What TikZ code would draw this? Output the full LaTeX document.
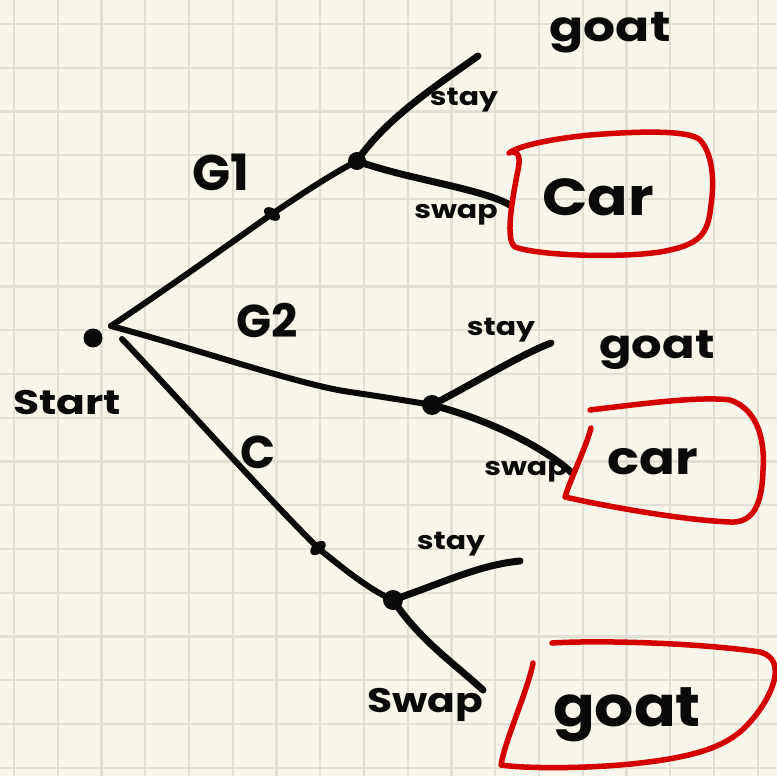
\documentclass[tikz,border=0pt]{standalone}
\usepackage{fontspec}
\setmainfont{Poppins}
\usepackage{graphicx}
\definecolor{paper}{HTML}{F8F6EB}
\definecolor{gridc}{HTML}{E2E0D4}
\definecolor{ink}{HTML}{0A0A0A}
\definecolor{pen}{HTML}{D40000}
\newcommand{\hw}[2][1.2]{\scalebox{#1}[1]{#2}}
\tikzset{
  branch/.style={draw=ink, line width=6pt, line cap=round, line join=round},
  leaf/.style={draw=ink, line width=7pt, line cap=round},
  dot/.style={circle, fill=ink, inner sep=0pt, minimum size=19pt},
  redbox/.style={draw=pen, line width=5.5pt, line cap=round, line join=round},
  lbl/.style={text=ink, inner sep=0pt, font=\bfseries},
}
\begin{document}
\begin{tikzpicture}[x=1pt, y=-1pt]
  % paper and grid
  \fill[paper] (0,0) rectangle (777,776);
  \useasboundingbox (0,0) rectangle (777,776);
  \foreach \k in {0,...,17} {
    \draw[gridc, line width=2.2pt] ({14+43.75*\k},0) -- ({14+43.75*\k},776);
    \draw[gridc, line width=2.2pt] (0,{24+43.75*\k}) -- (777,{24+43.75*\k});
  }

  % decision points
  \node[dot] (start) at (93,338) {};
  \coordinate (root) at (111,326);
  \coordinate (rootc) at (122,339);
  \node[dot, minimum size=18pt] (g1) at (357,161) {};
  \node[dot, minimum size=20pt] (g2) at (432,405) {};
  \node[dot, minimum size=20pt] (cc) at (393,600) {};

  % ends of the stay / swap strokes
  \coordinate (g1stay) at (478,56);
  \coordinate (g1swap) at (510,205);
  \coordinate (g2stay) at (551,343);
  \coordinate (g2swap) at (572,473);
  \coordinate (ccstay) at (520,561);
  \coordinate (ccswap) at (483,690);

  % first-level branches
  \draw[branch] (root) .. controls (180,280) and (260,222) .. (272,214)
                     .. controls (300,195) and (330,175) .. (g1.center);
  \draw[branch] (root) .. controls (200,350) and (300,385) .. (350,392)
                     .. controls (390,398) and (415,402) .. (g2.center);
  \draw[branch] (rootc) .. controls (180,400) and (260,490) .. (318,548)
                     .. controls (345,570) and (370,590) .. (cc.center);
  % pen blots along the strokes
  \fill[ink, rotate around={-35:(272,214)}] (272,214) ellipse (9pt and 5.5pt);
  \fill[ink, rotate around={40:(318,548)}] (318,548) ellipse (9pt and 5.5pt);

  % second-level branches
  \draw[leaf] (g1.center) .. controls (385,120) and (430,90) .. (g1stay);
  \draw[leaf] (g1.center) .. controls (410,180) and (480,188) .. (g1swap);
  \draw[leaf] (g2.center) .. controls (480,380) and (520,355) .. (g2stay);
  \draw[leaf] (g2.center) .. controls (490,420) and (545,448) .. (g2swap);
  \draw[leaf] (cc.center) .. controls (450,580) and (480,565) .. (ccstay);
  \draw[leaf] (cc.center) .. controls (420,640) and (450,660) .. (ccswap);

  % labels
  \node[lbl, font=\bfseries\fontsize{34}{34}\selectfont] (tstart) at (67,403) {\hw[1.25]{Start}};
  \node[lbl, font=\bfseries\fontsize{50}{50}\selectfont] (tg1) at (221,172) {G1};
  \node[lbl, font=\bfseries\fontsize{46}{46}\selectfont] (tg2) at (267,320) {G2};
  \node[lbl, font=\bfseries\fontsize{46}{46}\selectfont] (tc) at (258,452) {C};
  \node[lbl, font=\bfseries\fontsize{25}{25}\selectfont] (ts1) at (464,100) {\hw{stay}};
  \node[lbl, font=\bfseries\fontsize{25}{25}\selectfont] (tw1) at (456,215) {\hw{swap}};
  \node[lbl, font=\bfseries\fontsize{42}{42}\selectfont] (tgoat1) at (610,33) {\hw{goat}};
  \node[lbl, font=\bfseries\fontsize{52}{52}\selectfont] (tcar1) at (598,197) {\hw[1.15]{Car}};
  \node[lbl, font=\bfseries\fontsize{25}{25}\selectfont] (ts2) at (501,330) {\hw{stay}};
  \node[lbl, font=\bfseries\fontsize{25}{25}\selectfont] (tw2) at (526,472) {\hw{swap}};
  \node[lbl, font=\bfseries\fontsize{40}{40}\selectfont] (tgoat2) at (657,350) {\hw{goat}};
  \node[lbl, font=\bfseries\fontsize{46}{46}\selectfont] (tcar2) at (653,462) {\hw[1.15]{car}};
  \node[lbl, font=\bfseries\fontsize{25}{25}\selectfont] (ts3) at (451,544) {\hw{stay}};
  \node[lbl, font=\bfseries\fontsize{34}{34}\selectfont] (tw3) at (425,705) {\hw{Swap}};
  \node[lbl, font=\bfseries\fontsize{56}{56}\selectfont] (tgoat3) at (627,715) {\hw[1.1]{goat}};

  % red outlines round the outcomes
  \draw[redbox] (509,153) .. controls (515,148) and (540,140) .. (590,135)
        .. controls (640,131) and (690,130) .. (700,140)
        .. controls (714,155) and (714,185) .. (711,205)
        .. controls (708,235) and (700,245) .. (660,252)
        .. controls (620,258) and (540,256) .. (515,247)
        .. controls (505,240) and (512,200) .. (518,170)
        .. controls (520,160) and (520,152) .. (512,152);
  \draw[redbox] (590,410) .. controls (640,404) and (700,396) .. (730,400)
        .. controls (760,410) and (765,445) .. (763,470)
        .. controls (762,510) and (750,523) .. (730,522)
        .. controls (680,520) and (600,505) .. (565,497)
        .. controls (570,480) and (585,450) .. (591,428);
  \draw[redbox] (552,643) .. controls (600,640) and (700,643) .. (760,652)
        .. controls (790,660) and (770,700) .. (750,722)
        .. controls (730,745) and (700,758) .. (620,765)
        .. controls (570,769) and (520,768) .. (501,765)
        .. controls (505,740) and (528,690) .. (533,663);
\end{tikzpicture}
\end{document}
